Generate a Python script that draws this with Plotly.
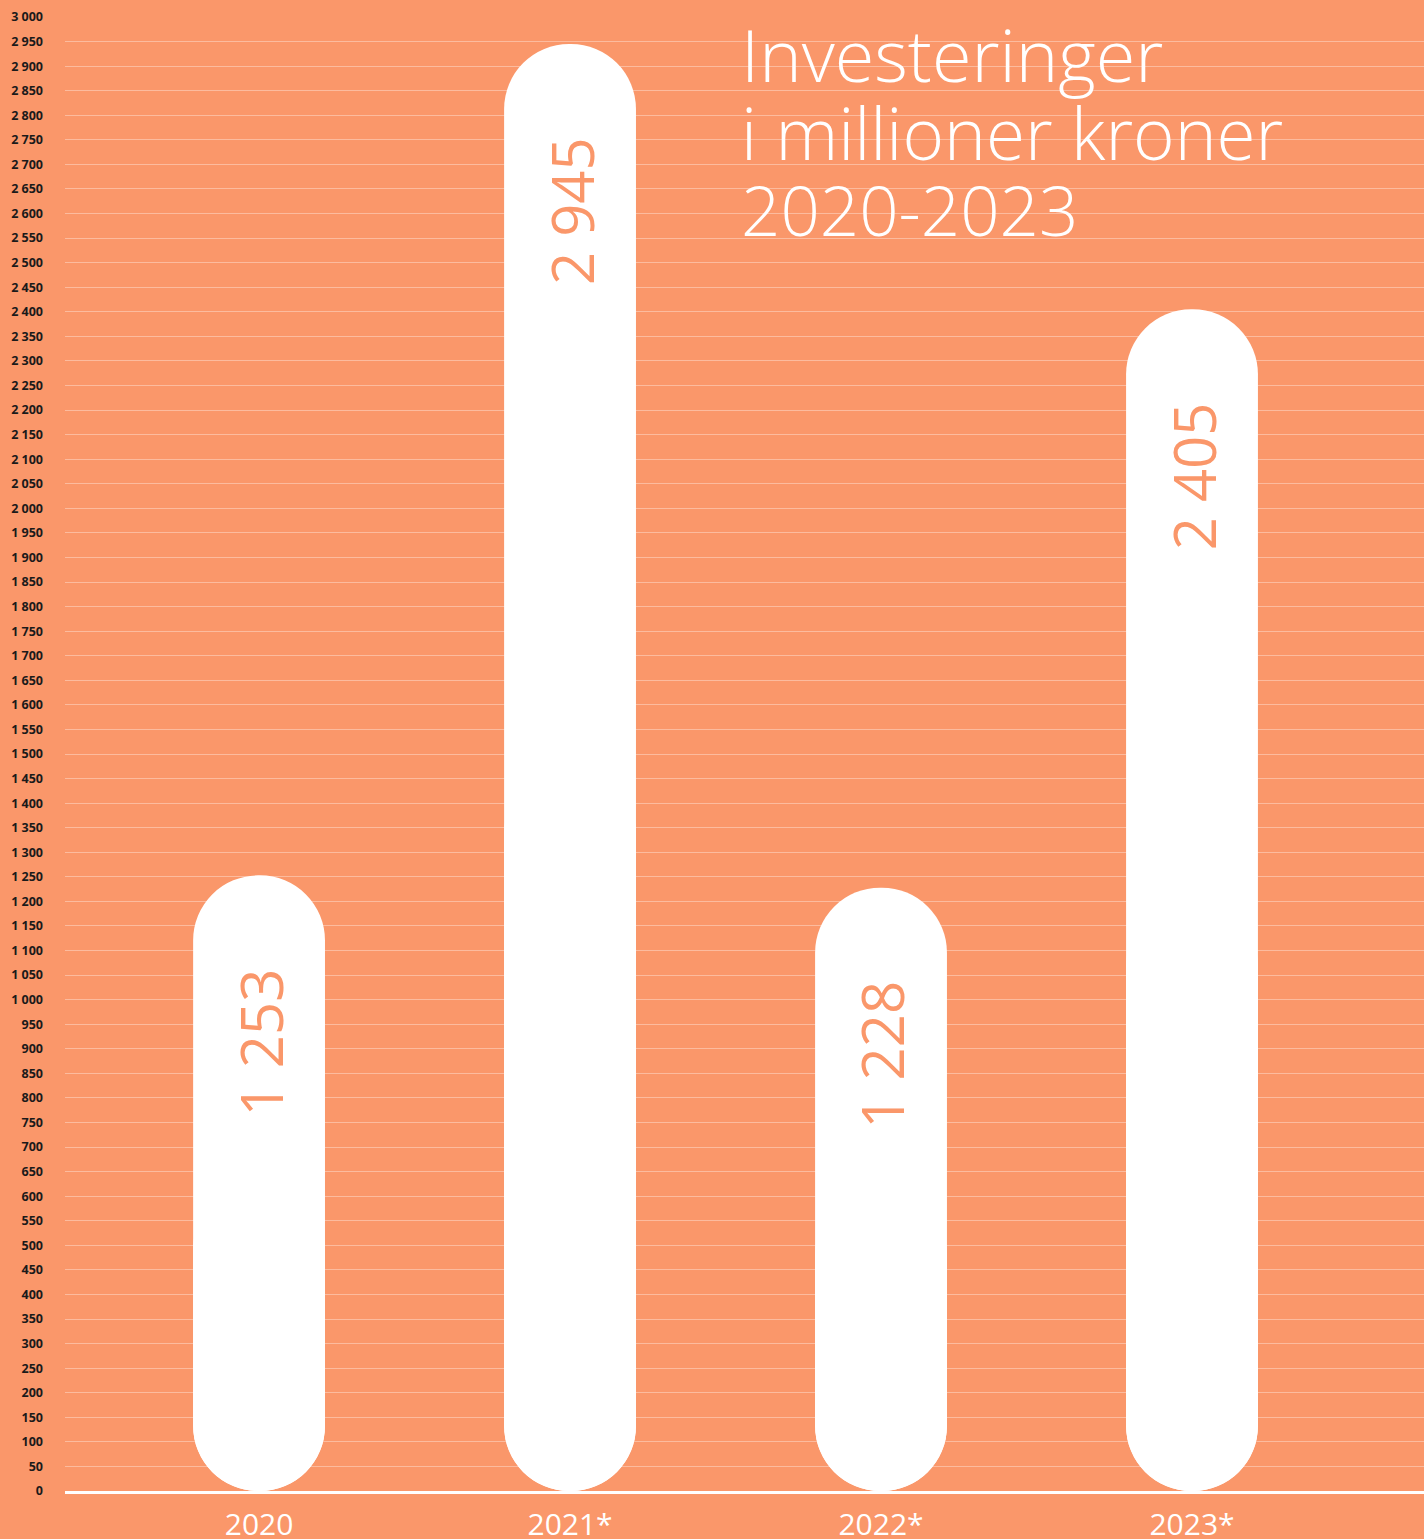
import plotly.graph_objects as go

categories = ["2020", "2021*", "2022*", "2023*"]
values = [1253, 2945, 1228, 2405]
title_lines = ["Investeringer", "i millioner kroner", "2020-2023"]

BG = "#FA976A"
W, H = 1424, 1539
ML, MR, MT, MB = 65, 0, 17, 48
plot_h = H - MT - MB

def fmt(v):
    return f"{v:,}".replace(",", " ")

half = [v / 2 for v in values]
xs = list(range(len(categories)))

fig = go.Figure()
fig.add_trace(go.Bar(x=xs, y=values, base=[0] * len(values),
                     width=0.424, marker=dict(color="white", line=dict(width=0), cornerradius="50%"),
                     hoverinfo="skip"))
fig.add_trace(go.Bar(x=xs, y=[-h for h in half], base=half,
                     width=0.424, marker=dict(color="white", line=dict(width=0), cornerradius="50%"),
                     hoverinfo="skip"))

annotations = []
for i, v in zip(xs, values):
    annotations.append(dict(x=i, y=v, xref="x", yref="y", text=fmt(v), textangle=-90,
                            showarrow=False, yanchor="top", xanchor="center", yshift=-91, xshift=1,
                            font=dict(family="Open Sans", size=58, color=BG, weight=400)))

title_mid_px = [54, 132, 209]
title_sizes = [72, 71, 69]
for line, py, sz in zip(title_lines, title_mid_px, title_sizes):
    annotations.append(dict(x=(739 - ML) / (W - ML - MR), y=(H - MB - py) / plot_h,
                            xref="paper", yref="paper", text=line, showarrow=False,
                            xanchor="left", yanchor="middle",
                            font=dict(family="Open Sans", size=sz, color="white", weight=300)))

fig.update_layout(
    width=W, height=H,
    margin=dict(l=ML, r=MR, t=MT, b=MB, pad=0, autoexpand=False),
    paper_bgcolor=BG, plot_bgcolor=BG,
    barmode="overlay", showlegend=False,
    separators=", ",
    annotations=annotations,
    xaxis=dict(range=[-0.624, 3.746], showgrid=False, zeroline=False, automargin=False,
               tickmode="array", tickvals=xs, ticktext=categories,
               showline=True, linecolor="white", linewidth=3,
               ticks="", tickfont=dict(family="Open Sans", size=30, color="white", weight=400),
               ticklabelstandoff=5, fixedrange=True),
    yaxis=dict(range=[0, 3000], dtick=50, tick0=0, tickformat=",d", automargin=False,
               showgrid=True, gridcolor="rgba(255,255,255,0.35)", gridwidth=1,
               zeroline=False, showline=False, ticks="",
               ticklabelstandoff=21,
               tickfont=dict(family="Open Sans", size=12.5, color="#1a1a1a", weight=700),
               fixedrange=True),
)

fig.write_html("out.html", config={"displayModeBar": False})
